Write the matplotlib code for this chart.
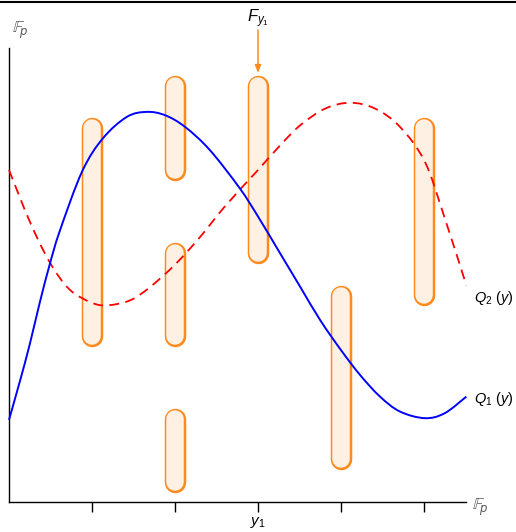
import matplotlib
matplotlib.use("Agg")
import matplotlib.pyplot as plt
from matplotlib.path import Path
from matplotlib.patches import PathPatch
from matplotlib.lines import Line2D

# ---- data ----
q1_x = [0, 0.13, 0.25, 0.37, 0.49, 0.61, 0.88, 1.13, 1.42, 1.66, 1.88, 2.12, 2.42,
        2.78, 3.00, 3.27, 3.51, 3.75, 4.00, 4.23, 4.47, 4.71, 5.01, 5.25, 5.51]
q1_y = [0.99, 1.45, 1.90, 2.40, 2.86, 3.26, 3.98, 4.38, 4.64, 4.70, 4.66, 4.52, 4.24,
        3.78, 3.44, 2.99, 2.59, 2.19, 1.83, 1.53, 1.27, 1.09, 1.01, 1.07, 1.27]

q2_x = [0, 0.25, 0.49, 0.73, 1.00, 1.19, 1.46, 1.70, 2.00, 2.30, 2.60, 3.00, 3.27,
        3.51, 3.81, 4.11, 4.41, 4.71, 5.01, 5.25, 5.51]
q2_y = [4.00, 3.38, 2.89, 2.56, 2.40, 2.37, 2.43, 2.59, 2.86, 3.19, 3.56, 4.00, 4.30,
        4.54, 4.74, 4.81, 4.74, 4.52, 4.10, 3.42, 2.61]

capsule_x = [1, 2, 2, 2, 3, 4, 5]
capsule_lo = [1.87, 3.87, 1.87, 0.11, 2.87, 0.39, 2.37]
capsule_hi = [4.63, 5.14, 3.13, 1.13, 5.14, 2.61, 4.63]

tick_positions = [1, 2, 3, 4, 5]
tick_labels = ["", "", "$y_1$", "", ""]

plt.rcParams["mathtext.fontset"] = "custom"
plt.rcParams["mathtext.it"] = "Liberation Sans:italic"
plt.rcParams["mathtext.rm"] = "Liberation Sans"


def smooth_path(xs, ys):
    """Cubic Bezier path passing through every read point (Catmull-Rom)."""
    pts = list(zip(xs, ys))
    verts = [pts[0]]
    codes = [Path.MOVETO]
    n = len(pts)
    for i in range(n - 1):
        p0 = pts[i - 1] if i > 0 else pts[i]
        p1 = pts[i]
        p2 = pts[i + 1]
        p3 = pts[i + 2] if i + 2 < n else pts[i + 1]
        c1 = (p1[0] + (p2[0] - p0[0]) / 6, p1[1] + (p2[1] - p0[1]) / 6)
        c2 = (p2[0] - (p3[0] - p1[0]) / 6, p2[1] - (p3[1] - p1[1]) / 6)
        verts += [c1, c2, p2]
        codes += [Path.CURVE4] * 3
    return Path(verts, codes)


# ---- figure ----
W, H = 516, 532
fig = plt.figure(figsize=(W / 100, H / 100), dpi=100)
ax = fig.add_axes([9 / W, (H - 502) / H, 457 / W, 454 / H])
ax.set_xlim(0, 457 / 83)
ax.set_ylim(0, 454 / 83)

orange = "#FF8A1C"
fill = "#FEF0E2"
px = 0.72  # points per pixel
outer_w = 21.5 * px
inner_w = 17.5 * px
inset = 10.5 / 83  # cap radius in data units
for cx, lo, hi in zip(capsule_x, capsule_lo, capsule_hi):
    for lw, col in ((outer_w, orange), (inner_w, fill)):
        ax.add_line(Line2D([cx, cx], [lo + inset, hi - inset], lw=lw, color=col,
                           solid_capstyle="round", zorder=2))

ax.add_patch(PathPatch(smooth_path(q2_x, q2_y), facecolor="none",
                       edgecolor="#FF0000", lw=1.3, ls=(0, (5.5, 3.5)),
                       zorder=3, clip_on=False))
ax.add_patch(PathPatch(smooth_path(q1_x, q1_y), facecolor="none",
                       edgecolor="#0000FF", lw=1.4, zorder=3, clip_on=False))

for s in ["top", "right"]:
    ax.spines[s].set_visible(False)
for s in ["left", "bottom"]:
    ax.spines[s].set_linewidth(1.0)
ax.set_yticks([])
ax.set_xticks(tick_positions)
ax.set_xticklabels(tick_labels, fontsize=11)
ax.tick_params(axis="x", direction="out", length=7.5, width=1.0, pad=2)

# labels
fig.text(12 / W, 1 - 30 / H, r"$\mathbb{F}_p$", fontsize=12, color="#555555",
         ha="left", va="center", math_fontfamily="dejavusans")
fig.text(472 / W, 1 - 507 / H, r"$\mathbb{F}_p$", fontsize=12, color="#555555",
         ha="left", va="center", math_fontfamily="dejavusans")
fig.text(474 / W, 1 - 298 / H, r"$Q_2\ (y)$", fontsize=10.5, ha="left", va="center")
fig.text(474 / W, 1 - 399 / H, r"$Q_1\ (y)$", fontsize=10.5, ha="left", va="center")
fig.text(258 / W, 1 - 19 / H, r"$F_{y_1}$", fontsize=12, ha="center", va="center")

# arrow to the capsule at y1
ax.annotate("", xy=(3, capsule_hi[4] + 0.03), xytext=(3, (502 - 30) / 83),
            arrowprops=dict(arrowstyle="-|>,head_length=0.45,head_width=0.18",
                            color=orange, lw=1.1, shrinkA=0, shrinkB=0),
            annotation_clip=False)

# top rule
fig.add_artist(Line2D([0, 1], [1 - 2 / H, 1 - 2 / H], color="black", lw=1.5,
                      transform=fig.transFigure))

fig.savefig("out.png", dpi=100)
